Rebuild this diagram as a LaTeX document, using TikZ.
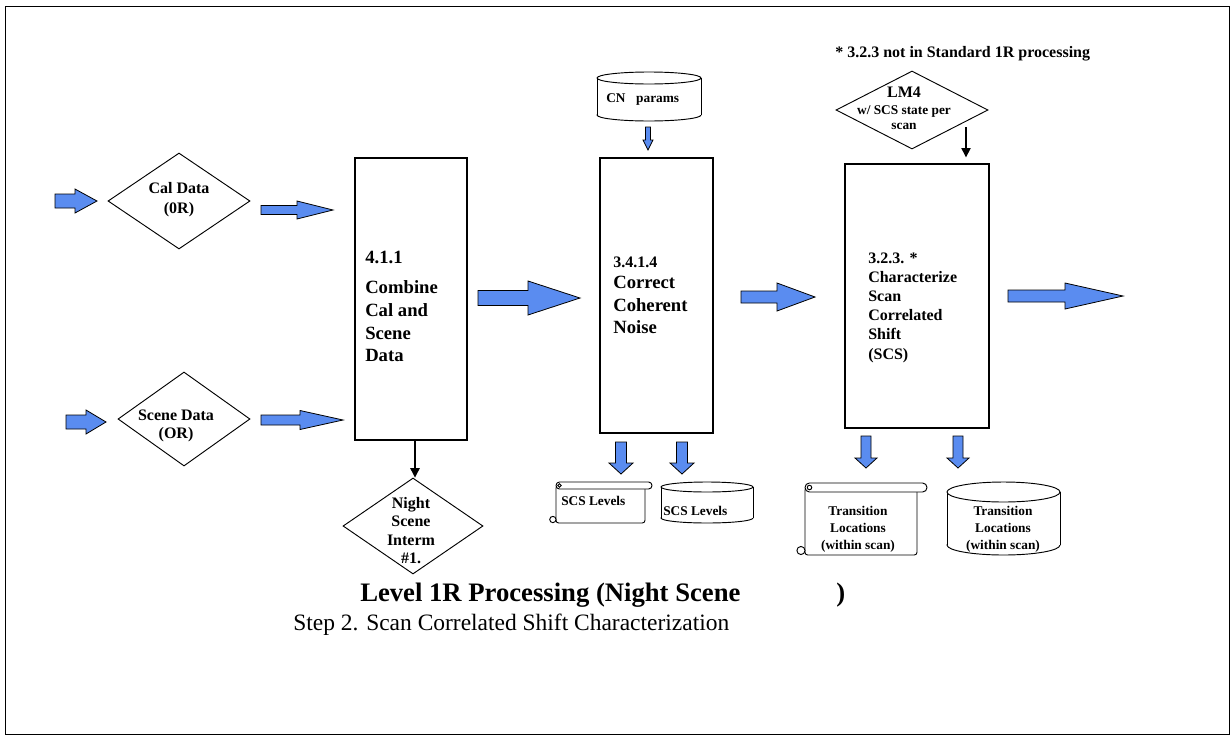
\documentclass[tikz,border=0pt]{standalone}
\usepackage{fontspec}
\setmainfont{Liberation Serif}
\usetikzlibrary{shapes.geometric,arrows.meta}
\newdimen\px \px=0.75pt
\definecolor{flowblue}{RGB}{90,140,240}
\newcommand\stackL[1]{\begin{tabular}[t]{@{}l@{}}#1\end{tabular}}
\newcommand\stackC[1]{\begin{tabular}[t]{@{}c@{}}#1\end{tabular}}
\newcommand\fs[2]{\fontsize{#1}{#2}\selectfont}
% horizontal block arrow: tail x, y, head base x, tip x, body half, head half
\newcommand\harrow[6]{\draw[blockarrow] (#1,#2-#5) -- (#3,#2-#5) -- (#3,#2-#6) -- (#4,#2) -- (#3,#2+#6) -- (#3,#2+#5) -- (#1,#2+#5) -- cycle;}
% vertical block arrow: x, tail y, head base y, tip y, body half, head half
\newcommand\varrow[6]{\draw[blockarrow] (#1-#5,#2) -- (#1-#5,#3) -- (#1-#6,#3) -- (#1,#4) -- (#1+#6,#3) -- (#1+#5,#3) -- (#1+#5,#2) -- cycle;}
% drum store: left, top, right, bottom, ellipse half-height
\newcommand\drum[5]{%
  \draw[thinline, fill=white] ({(#1+#3)/2},#4-#5) ellipse[x radius={(#3-#1)/2}, y radius=#5];
  \fill[white] (#1,#2+#5) rectangle (#3,#4-#5);
  \draw[thinline] (#1,#2+#5) -- (#1,#4-#5) (#3,#2+#5) -- (#3,#4-#5);
  \draw[thinline, fill=white] ({(#1+#3)/2},#2+#5) ellipse[x radius={(#3-#1)/2}, y radius=#5];}
% scroll document: left, top, body right, roll right, bottom, roll height
\newcommand\scrollshape[6]{%
  \draw[thinline, fill=white, rounded corners=2pt] (#1,#2+#6/2) -- (#1,#5) -- (#3,#5) -- (#3,#2+#6/2) -- cycle;
  \draw[thinline, fill=white, rounded corners=#6*0.37pt] (#1,#2) rectangle (#4,#2+#6);
  \draw[thinline] (#1+#6/2,#2+#6/2) circle[radius=#6*0.25];
  \draw[thinline, fill=white] (#1-#6*0.45,#5-#6*0.5) circle[radius=#6*0.45];}

\begin{document}
\begin{tikzpicture}[x=0.75pt, y=-0.75pt,
  thinline/.style={line width=0.7pt},
  procbox/.style={draw, line width=1pt, rectangle, inner sep=0pt},
  datadiamond/.style={draw, line width=0.7pt, diamond, inner sep=0pt},
  blockarrow/.style={draw=black, line width=0.6pt, fill=flowblue, line join=miter},
  lbl/.style={inner sep=0pt, font=\bfseries},
  flowline/.style={draw, line width=0.9pt, -{Triangle[length=7pt,width=7pt]}},
  ]
\useasboundingbox (0,0) rectangle (1231,736);
\draw[line width=1.2pt] (5.5,6.5) rectangle (1229.5,734.5);

% inputs
\node[datadiamond, minimum width=142*\px, minimum height=96*\px] (cal) at (179,201) {};
\node[datadiamond, minimum width=132*\px, minimum height=94*\px] (scene) at (184,419) {};
\node[lbl, anchor=base] (tcal) at (179,193) {\fs{12}{15}\stackC{Cal Data\\(0R)}};
\node[lbl, anchor=base] (tscene) at (176,420) {\fs{12}{13.5}\stackC{Scene Data\\(OR)}};
\harrow{55}{201}{75}{97}{7}{12}
\harrow{66}{422}{86}{106}{7}{12}
\harrow{261}{210}{297}{333}{4.5}{9}
\harrow{261}{420}{300}{343}{5}{9.5}

% processing steps
\node[procbox, minimum width=112*\px, minimum height=282*\px] (b411) at (411,299) {};
\node[procbox, minimum width=113*\px, minimum height=275*\px] (b3414) at (656.5,295.5) {};
\node[procbox, minimum width=144*\px, minimum height=264*\px] (b323) at (917,296) {};
\node[lbl, anchor=base west] (t411) at (365,263) {\fs{14}{17}\stackL{4.1.1\\[6pt]Combine\\Cal and\\Scene\\Data}};
\node[lbl, anchor=base west] (t3414) at (613,267) {\fs{14}{16.9}\stackL{{\fs{12}{14}3.4.1.4}\\[-0.8pt]Correct\\Coherent\\Noise}};
\node[lbl, anchor=base west] (t323) at (868,263) {\fs{12}{14.4}\stackL{3.2.3. *\\Characterize\\Scan\\Correlated\\Shift\\(SCS)}};
\harrow{478}{298}{528}{580}{7.5}{17}
\harrow{741}{297}{777}{815}{6}{14}
\harrow{1008}{296}{1065}{1123}{6}{13}

% intermediate output of 4.1.1
\node[datadiamond, minimum width=140*\px, minimum height=96*\px] (night) at (413,526) {};
\node[lbl, anchor=base] (tnight) at (411,508) {\fs{12}{13.9}\stackC{Night\\Scene\\Interm\\\#1.}};
\draw[flowline] ([xshift=4*\px]b411.south) -- ([xshift=4*\px]b411.south |- night.north);

% coherent noise parameters
\drum{597}{72}{701}{121}{6}
\node[lbl, anchor=base west] (tcn) at (606,102) {\fs{10}{12}CN\hspace*{0.8em}params};
\varrow{648}{127}{140}{150}{2.5}{5}

% SCS level outputs
\varrow{621}{442}{463}{474}{5.5}{12}
\varrow{682}{442}{463}{474}{5.5}{12}
\scrollshape{556}{482}{645}{652}{523}{7}
\drum{661}{482}{753}{523}{5}
\node[lbl, anchor=base west] (tscs1) at (561,505) {\fs{10}{12}SCS Levels};
\node[lbl, anchor=base west] (tscs2) at (663,515) {\fs{10}{12}SCS Levels};

% LM4 input and note
\node[lbl, anchor=base west] (note) at (835,57) {\fs{12}{14}* 3.2.3 not in Standard 1R processing};
\node[datadiamond, minimum width=152*\px, minimum height=78*\px] (lm4) at (912,110) {};
\node[lbl, anchor=base] (tlm4) at (904,97) {\fs{10}{11.5}\stackC{{\fs{12}{14}LM4}\\[1.5pt]w/ SCS state per\\scan}};
\coordinate (lmout) at (966,127);
\draw[flowline, shorten >=4.5pt] (lmout) -- (lmout |- b323.north);

% transition location outputs
\varrow{866}{436}{458}{468}{5}{11}
\varrow{958}{436}{458}{468}{5}{11}
\scrollshape{805}{483}{917}{927}{555}{9}
\drum{947}{482}{1060}{555}{10}
\node[lbl, anchor=base] (ttr1) at (858,515) {\fs{10}{13}\stackC{Transition\\Locations\\(within scan)}};
\node[lbl, anchor=base] (ttr2) at (1003,515) {\fs{10}{13}\stackC{Transition\\Locations\\(within scan)}};

% caption
\node[anchor=base west, inner sep=0pt] (title) at (360,601) {\fs{20}{24}\bfseries Level 1R Processing (Night Scene};
\node[anchor=base west, inner sep=0pt] (titleparen) at (836,601) {\fs{20}{24}\bfseries )};
\node[anchor=base west, inner sep=0pt] (subtitle) at (293,630) {\fs{17.6}{21}Step 2. Scan Correlated Shift Characterization};
\end{tikzpicture}
\end{document}
